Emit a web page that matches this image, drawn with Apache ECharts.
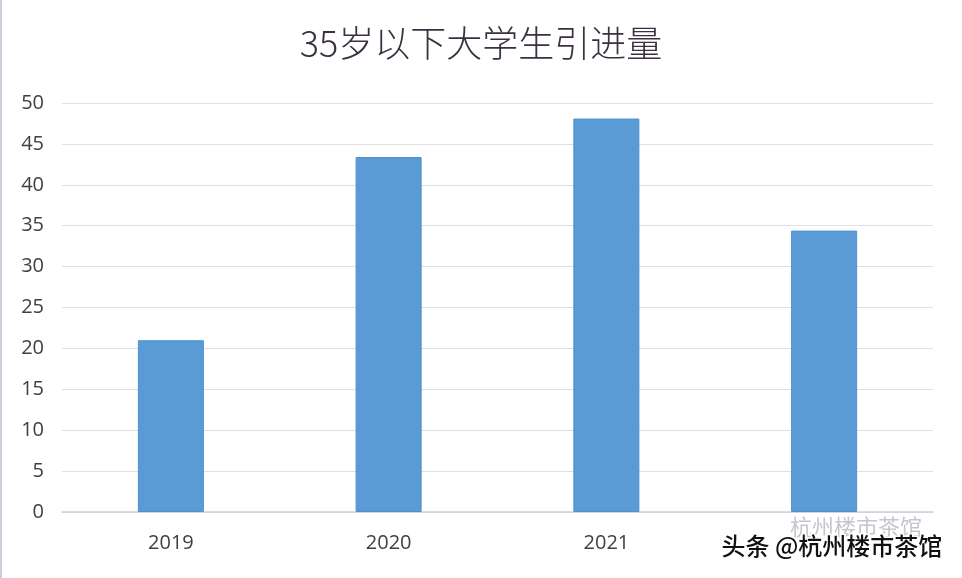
<!DOCTYPE html>
<html><head><meta charset="utf-8">
<script src="https://cdn.jsdelivr.net/npm/echarts@6/dist/echarts.min.js"></script>
<style>html,body{margin:0;padding:0;background:#fff}#c{width:962px;height:578px}</style>
</head><body><div id="c"></div>
<script>
const categories = ['2019', '2020', '2021', '2022'];
const values = [21.0, 43.4, 48.1, 34.4];
const yTicks = [0, 5, 10, 15, 20, 25, 30, 35, 40, 45, 50];
const titleText = '35岁以下大学生引进量';
const watermark = '头条 @杭州楼市茶馆';
const watermarkFaint = '杭州楼市茶馆';

const chart = echarts.init(document.getElementById('c'));
chart.setOption({
  backgroundColor: '#ffffff',
  animation: false,
  title: {
    text: titleText, left: 'center', top: 20,
    textStyle: { fontFamily: '"Noto Sans CJK SC", sans-serif', fontSize: 36, fontWeight: 300, color: '#3a3040' }
  },
  grid: { left: 62, right: 29, top: 103, bottom: 66 },
  xAxis: {
    type: 'category', data: categories,
    axisLine: { lineStyle: { color: '#c8d3e0', width: 1.5 } },
    axisTick: { show: false },
    axisLabel: {
      margin: 21, fontSize: 20, color: '#404040', fontFamily: '"Open Sans", sans-serif',
      formatter: (v, i) => i === 3 ? '' : v
    }
  },
  yAxis: {
    type: 'value', min: yTicks[0], max: yTicks[yTicks.length - 1], interval: 5,
    axisLine: { show: false }, axisTick: { show: false },
    splitLine: { lineStyle: { color: '#dcdfe4', width: 1.2 } },
    axisLabel: { margin: 18, fontSize: 20, color: '#404040', fontFamily: '"Open Sans", sans-serif' }
  },
  series: [{
    type: 'bar', data: values, barWidth: 66,
    itemStyle: { color: '#5b9bd5', borderColor: '#4f8fcc', borderWidth: 1 }
  }],
  graphic: [
    { type: 'rect', left: 0, top: 0, shape: { width: 2, height: 578 }, style: { fill: '#c9d0dc' } },
    { type: 'text', left: 790, top: 516, style: { text: watermarkFaint, font: '22px "Noto Sans CJK SC"', fill: 'rgba(110,110,130,0.4)' } },
    { type: 'text', left: 720, top: 532, style: { text: watermark, font: '500 24px "Noto Sans CJK SC"', fill: '#111111', stroke: '#ffffff', lineWidth: 3 } }
  ]
});
</script></body></html>
